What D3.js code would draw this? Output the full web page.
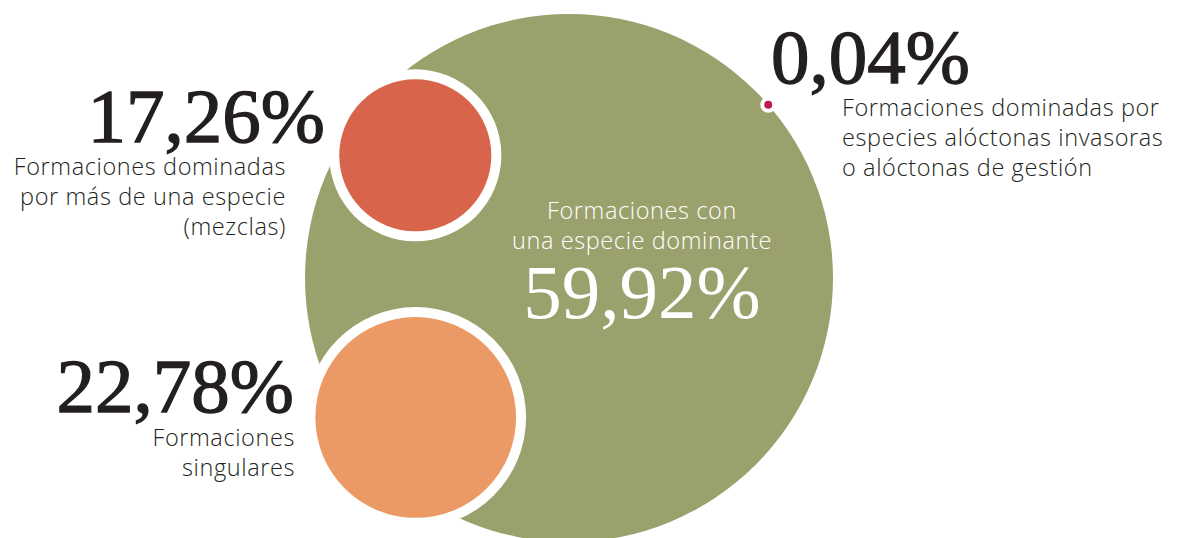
<!DOCTYPE html>
<html>
	<head>
		<meta charset="utf-8">
		<script src="https://cdnjs.cloudflare.com/ajax/libs/d3/7.8.5/d3.min.js"></script>
	</head>
	<style>
		body { margin: 0; background: #fff; }
		.num { font-family: "Liberation Serif", serif; font-size: 77px; fill: #231f20; stroke: #231f20; stroke-width: 1.3px; }
		.lbl { font-family: "Open Sans", sans-serif; font-weight: 300; font-size: 23.5px; letter-spacing: 0.6px; fill: #231f20; }
	</style>
	<body>
		<script>
			var width = 1177,
				height = 538;

			// data
			var categories = ["dominante", "mezclas", "singulares", "aloctonas"];
			var values = [59.92, 17.26, 22.78, 0.04];
			var valueLabels = ["59,92%", "17,26%", "22,78%", "0,04%"];
			var colors = ["#9aa16d", "#d8654b", "#eb9a65", "#c0184f"];
			var labelLines = [
				["Formaciones con", "una especie dominante"],
				["Formaciones dominadas", "por más de una especie", "(mezclas)"],
				["Formaciones", "singulares"],
				["Formaciones dominadas por", "especies alóctonas invasoras", "o alóctonas de gestión"]
			];

			// layout: where each small circle sits on the big one (angle in deg, distance as share of big radius)
			var center = [569, 278];
			var place = [
				{ angle: 0, dist: 0 },
				{ angle: 218.6, dist: 0.745 },
				{ angle: 137.7, dist: 0.785 },
				{ angle: -41, dist: 1 }
			];

			var r = d3.scaleLinear().domain([0, 59.92]).range([0, 264]);
			var bigR = r(values[0]);

			var svg = d3.select("body").append("svg")
				.attr("width", width)
				.attr("height", height);

			var nodes = values.map(function(v, i) {
				var a = place[i].angle * Math.PI / 180;
				return {
					key: categories[i],
					value: v,
					color: colors[i],
					r: Math.max(r(v), 4),
					x: center[0] + Math.cos(a) * bigR * place[i].dist,
					y: center[1] + Math.sin(a) * bigR * place[i].dist
				};
			});

			var g = svg.selectAll("g.node")
				.data(nodes)
				.enter().append("g")
				.attr("class", "node");

			// big circle, or white ring under the small ones
			g.append("circle")
				.attr("cx", function(d) { return d.x; })
				.attr("cy", function(d) { return d.y; })
				.attr("r", function(d, i) { return i == 0 ? d.r : d.r + (i == 3 ? 4 : 10); })
				.attr("fill", function(d, i) { return i == 0 ? d.color : "#fff"; });

			g.filter(function(d, i) { return i > 0; })
				.append("circle")
				.attr("cx", function(d) { return d.x; })
				.attr("cy", function(d) { return d.y; })
				.attr("r", function(d) { return d.r; })
				.attr("fill", function(d) { return d.color; });

			// text blocks: number position and label anchor
			var textPos = [
				{ x: 642, y: 318, anchor: "middle", ly: 219, fill: "#fff" },
				{ x: 325, y: 142, anchor: "end", lx: 286, ly: 175 },
				{ x: 294, y: 412, anchor: "end", lx: 295, ly: 446 },
				{ x: 771, y: 83, anchor: "start", lx: 842, ly: 116 }
			];

			textPos.forEach(function(p, i) {
				svg.append("text")
					.attr("class", "num")
					.attr("x", p.x)
					.attr("y", p.y)
					.attr("text-anchor", p.anchor)
					.style("fill", p.fill || null)
					.style("stroke", p.fill ? "none" : null)
					.text(valueLabels[i]);

				var t = svg.append("text")
					.attr("class", "lbl")
					.attr("text-anchor", p.anchor)
					.style("fill", p.fill || null);
				labelLines[i].forEach(function(line, j) {
					t.append("tspan")
						.attr("x", p.lx != null ? p.lx : p.x)
						.attr("y", p.ly + j * 30)
						.text(line);
				});
			});
		</script>
	</body>
</html>
